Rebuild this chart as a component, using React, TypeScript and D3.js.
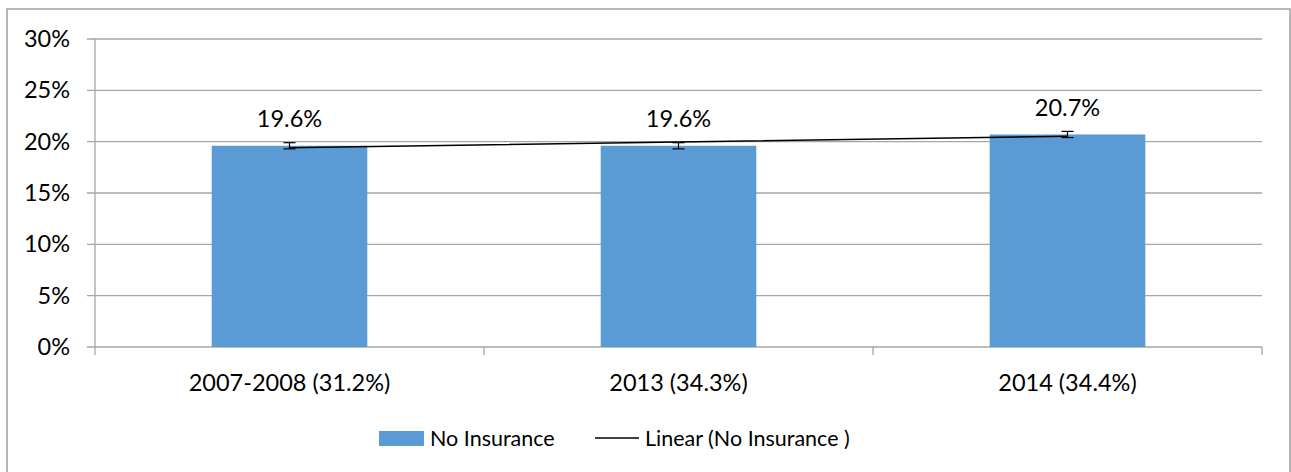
import React from "react";
import * as d3 from "d3";

const categories = ["2007-2008 (31.2%)", "2013 (34.3%)", "2014 (34.4%)"];
const noInsurance = [19.6, 19.6, 20.7];
const errorMargins = [0.3, 0.3, 0.3];
const yTicks = [0, 5, 10, 15, 20, 25, 30];
const seriesName = "No Insurance";
const trendName = "Linear (No Insurance )";

const W = 1291;
const H = 472;
const FONT = "Lato, 'Liberation Sans', sans-serif";
const FS = 23.5;
const LEGEND_FS = 21.5;
const BAR = "#5B9BD5";
const GRID = "#A6A6A6";

export default function App() {
  const x = d3
    .scaleBand<string>()
    .domain(categories)
    .range([95, 1262])
    .paddingInner(0.6)
    .paddingOuter(0.3);
  const y = d3.scaleLinear().domain([0, 30]).range([347, 39]);

  // linear trend (least squares over category index 1..n)
  const n = noInsurance.length;
  const xs = noInsurance.map((_, i) => i + 1);
  const mx = d3.mean(xs) as number;
  const my = d3.mean(noInsurance) as number;
  const slope =
    d3.sum(xs.map((xi, i) => (xi - mx) * (noInsurance[i] - my))) /
    d3.sum(xs.map((xi) => (xi - mx) * (xi - mx)));
  const intercept = my - slope * mx;
  const trend = xs.map((xi) => intercept + slope * xi);
  const cx = (c: string) => (x(c) as number) + x.bandwidth() / 2;
  const line = d3
    .line<number>()
    .x((_, i) => cx(categories[i]))
    .y((d) => y(d));

  const step = x.step();
  const left = 95;
  const right = 1262;
  const boundaries = d3.range(n + 1).map((i) => left + i * step);

  return (
    <svg
      width={W}
      height={H}
      style={{ position: "absolute", left: 0, top: 0, background: "#fff" }}
      fontFamily={FONT}
      fontSize={FS}
    >
      <rect x={7} y={9} width={1283} height={470} fill="#fff" stroke="#A0A0A0" strokeWidth={1.5} />
      {/* gridlines & y ticks */}
      {yTicks.map((t) => (
        <g key={t}>
          <line x1={87} x2={right} y1={y(t)} y2={y(t)} stroke={GRID} strokeWidth={1.3} />
          <text x={70} y={y(t) + 8} textAnchor="end" fill="#000">
            {t + "%"}
          </text>
        </g>
      ))}
      {/* y axis */}
      <line x1={left} x2={left} y1={y(30)} y2={y(0)} stroke={GRID} strokeWidth={1.3} />
      {/* x ticks */}
      {boundaries.map((b, i) => (
        <line key={i} x1={b} x2={b} y1={y(0)} y2={y(0) + 8} stroke={GRID} strokeWidth={1.3} />
      ))}
      {/* bars */}
      {categories.map((c, i) => (
        <rect
          key={c}
          x={x(c)}
          y={y(noInsurance[i])}
          width={x.bandwidth()}
          height={y(0) - y(noInsurance[i])}
          fill={BAR}
        />
      ))}
      {/* error bars */}
      {categories.map((c, i) => {
        const hi = y(noInsurance[i] + errorMargins[i]);
        const lo = y(noInsurance[i] - errorMargins[i]);
        const xc = cx(c);
        return (
          <g key={c} stroke="#000" strokeWidth={1.2}>
            <line x1={xc} x2={xc} y1={hi} y2={lo} />
            <line x1={xc - 6} x2={xc + 6} y1={hi} y2={hi} />
            <line x1={xc - 6} x2={xc + 6} y1={lo} y2={lo} />
          </g>
        );
      })}
      {/* trend line */}
      <path d={line(trend) || ""} fill="none" stroke="#000" strokeWidth={1.5} />
      {/* data labels */}
      {categories.map((c, i) => (
        <text key={c} x={cx(c)} y={y(noInsurance[i]) - 18.5} textAnchor="middle" fill="#000">
          {noInsurance[i].toFixed(1) + "%"}
        </text>
      ))}
      {/* x labels */}
      {categories.map((c) => (
        <text key={c} x={cx(c)} y={391} textAnchor="middle" fill="#000">
          {c}
        </text>
      ))}
      {/* legend */}
      <rect x={379} y={431} width={45} height={15} fill={BAR} />
      <text x={430} y={446} fill="#000" fontSize={LEGEND_FS}>
        {seriesName}
      </text>
      <line x1={595} x2={639} y1={438} y2={438} stroke="#000" strokeWidth={1.5} />
      <text x={645} y={446} fill="#000" fontSize={LEGEND_FS}>
        {trendName}
      </text>
    </svg>
  );
}
